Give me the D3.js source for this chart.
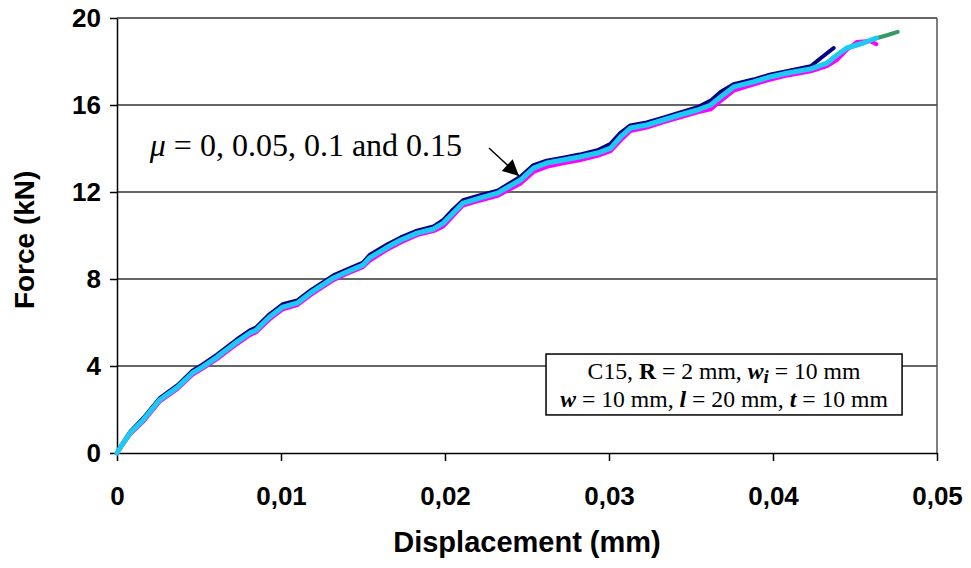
<!DOCTYPE html>
<html>
<head>
<meta charset="utf-8">
<script src="https://cdn.jsdelivr.net/npm/d3@7"></script>
<style>
	body { margin: 0; background: #fff; }
	svg { display: block; }
</style>
</head>
<body>
<div id="chart"></div>
<script>
// Axis ticks
var xTicks = [0, 0.01, 0.02, 0.03, 0.04, 0.05]
var yTicks = [0, 4, 8, 12, 16, 20]

// mu = 0 (navy)
var dispMu0 = [0, 0.0003, 0.0008, 0.0016, 0.0026, 0.0037, 0.0046, 0.0052, 0.0061, 0.0073, 0.0081, 0.0085, 0.0093, 0.0101, 0.0110, 0.0118, 0.0132, 0.0140, 0.0150, 0.0154, 0.0165, 0.0173, 0.0183, 0.0193, 0.0199, 0.0205, 0.0211, 0.0221, 0.0232, 0.0246, 0.0254, 0.0262, 0.0272, 0.0282, 0.0293, 0.0301, 0.0307, 0.0313, 0.0323, 0.0333, 0.0343, 0.0354, 0.0362, 0.0368, 0.0376, 0.0388, 0.0398, 0.0409, 0.0423, 0.0429, 0.0437]
var forceMu0 = [0, 0.40, 0.97, 1.60, 2.52, 3.12, 3.78, 4.06, 4.52, 5.22, 5.64, 5.78, 6.38, 6.84, 7.02, 7.48, 8.17, 8.43, 8.76, 9.10, 9.60, 9.91, 10.22, 10.42, 10.72, 11.20, 11.62, 11.84, 12.06, 12.70, 13.24, 13.44, 13.58, 13.72, 13.92, 14.22, 14.72, 15.06, 15.20, 15.42, 15.65, 15.90, 16.20, 16.60, 16.96, 17.17, 17.39, 17.57, 17.78, 18.15, 18.62]

// mu = 0.05 (magenta)
var dispMu005 = [0, 0.0003, 0.0008, 0.0016, 0.0026, 0.0037, 0.0046, 0.0052, 0.0061, 0.0073, 0.0081, 0.0085, 0.0093, 0.0101, 0.0110, 0.0118, 0.0132, 0.0140, 0.0150, 0.0154, 0.0165, 0.0173, 0.0183, 0.0193, 0.0199, 0.0205, 0.0211, 0.0221, 0.0232, 0.0246, 0.0254, 0.0262, 0.0272, 0.0282, 0.0293, 0.0301, 0.0307, 0.0313, 0.0323, 0.0333, 0.0343, 0.0354, 0.0362, 0.0368, 0.0376, 0.0388, 0.0398, 0.0409, 0.0423, 0.0433, 0.0439, 0.0445, 0.0451, 0.0459, 0.0463]
var forceMu005 = [0, 0.33, 0.86, 1.44, 2.36, 2.95, 3.60, 3.87, 4.32, 5.00, 5.42, 5.56, 6.14, 6.60, 6.80, 7.26, 7.95, 8.23, 8.55, 8.84, 9.36, 9.68, 10.02, 10.20, 10.42, 10.90, 11.38, 11.60, 11.82, 12.38, 12.92, 13.16, 13.32, 13.46, 13.66, 13.88, 14.36, 14.80, 14.96, 15.20, 15.42, 15.66, 15.80, 16.18, 16.66, 16.94, 17.16, 17.36, 17.55, 17.79, 18.07, 18.53, 18.90, 18.94, 18.80]

// mu = 0.1 (sky blue)
var dispMu01 = [0, 0.0003, 0.0008, 0.0016, 0.0026, 0.0037, 0.0046, 0.0052, 0.0061, 0.0073, 0.0081, 0.0085, 0.0093, 0.0101, 0.0110, 0.0118, 0.0132, 0.0140, 0.0150, 0.0154, 0.0165, 0.0173, 0.0183, 0.0193, 0.0199, 0.0205, 0.0211, 0.0221, 0.0232, 0.0246, 0.0254, 0.0262, 0.0272, 0.0282, 0.0293, 0.0301, 0.0307, 0.0313, 0.0323, 0.0333, 0.0343, 0.0354, 0.0362, 0.0368, 0.0376, 0.0388, 0.0398, 0.0409, 0.0423, 0.0433, 0.0439, 0.0445, 0.0455, 0.0463]
var forceMu01 = [0, 0.37, 0.92, 1.52, 2.44, 3.03, 3.68, 3.95, 4.41, 5.10, 5.52, 5.66, 6.25, 6.71, 6.90, 7.36, 8.05, 8.32, 8.64, 8.97, 9.47, 9.79, 10.11, 10.30, 10.57, 11.03, 11.49, 11.72, 11.95, 12.55, 13.10, 13.33, 13.47, 13.61, 13.79, 14.02, 14.53, 14.94, 15.08, 15.31, 15.54, 15.77, 16.00, 16.37, 16.83, 17.06, 17.29, 17.47, 17.66, 17.93, 18.30, 18.62, 18.85, 19.08]

// mu = 0.15 (green)
var dispMu015 = [0, 0.0003, 0.0008, 0.0016, 0.0026, 0.0037, 0.0046, 0.0052, 0.0061, 0.0073, 0.0081, 0.0085, 0.0093, 0.0101, 0.0110, 0.0118, 0.0132, 0.0140, 0.0150, 0.0154, 0.0165, 0.0173, 0.0183, 0.0193, 0.0199, 0.0205, 0.0211, 0.0221, 0.0232, 0.0246, 0.0254, 0.0262, 0.0272, 0.0282, 0.0293, 0.0301, 0.0307, 0.0313, 0.0323, 0.0333, 0.0343, 0.0354, 0.0362, 0.0368, 0.0376, 0.0388, 0.0398, 0.0409, 0.0423, 0.0433, 0.0439, 0.0445, 0.0455, 0.0463, 0.0470, 0.0476]
var forceMu015 = [0, 0.36, 0.91, 1.51, 2.43, 3.02, 3.67, 3.95, 4.40, 5.09, 5.51, 5.65, 6.24, 6.70, 6.90, 7.35, 8.04, 8.31, 8.63, 8.96, 9.46, 9.78, 10.10, 10.30, 10.56, 11.02, 11.48, 11.71, 11.94, 12.54, 13.09, 13.32, 13.46, 13.60, 13.78, 14.01, 14.52, 14.93, 15.07, 15.30, 15.53, 15.76, 15.99, 16.36, 16.82, 17.05, 17.28, 17.46, 17.65, 17.92, 18.29, 18.61, 18.84, 19.07, 19.22, 19.36]

var series = [
	{name: "mu0",   disp: dispMu0,   force: forceMu0,   color: "#000080", width: 4},
	{name: "mu005", disp: dispMu005, force: forceMu005, color: "#ff00ff", width: 4},
	{name: "mu015", disp: dispMu015, force: forceMu015, color: "#339966", width: 4},
	{name: "mu01",  disp: dispMu01,  force: forceMu01,  color: "#1ccbf4", width: 5}
]

var W = 971, H = 568
var margin = {top: 18, right: 34, bottom: 115, left: 117}
var width = W - margin.left - margin.right,
	height = H - margin.top - margin.bottom

var sans = "Arial, 'Liberation Sans', sans-serif"
var serif = "'Times New Roman', 'Liberation Serif', serif"

var svg = d3.select("#chart")
	.append("svg")
		.attr("width", W)
		.attr("height", H)
	.append("g")
		.attr("transform", "translate(" + margin.left + "," + margin.top + ")")

var xScale = d3.scaleLinear().domain([0, 0.05]).range([0, width])
var yScale = d3.scaleLinear().domain([0, 20]).range([height, 0])

// Gridlines
svg.append("g")
	.selectAll("line")
	.data(yTicks.slice(1))
	.enter().append("line")
		.attr("x1", 0)
		.attr("x2", width)
		.attr("y1", d => yScale(d))
		.attr("y2", d => yScale(d))
		.attr("stroke", "#333")
		.attr("stroke-width", 1.5)

// right border
svg.append("line")
	.attr("x1", width).attr("x2", width)
	.attr("y1", 0).attr("y2", height)
	.attr("stroke", "#555")
	.attr("stroke-width", 1.5)

// X axis
var xAxis = d3.axisBottom(xScale)
	.tickValues(xTicks)
	.tickSize(8)
	.tickSizeOuter(0)
	.tickPadding(26)
	.tickFormat(d => d === 0 ? "0" : d.toFixed(2).replace(".", ","))
var gx = svg.append("g")
	.attr("transform", "translate(0," + height + ")")
	.call(xAxis)

// Y axis
var yAxis = d3.axisLeft(yScale)
	.tickValues(yTicks)
	.tickSize(7)
	.tickSizeOuter(0)
	.tickPadding(9)
	.tickFormat(d3.format("d"))
var gy = svg.append("g").call(yAxis)

svg.selectAll(".domain, .tick line")
	.attr("stroke", "#000")
	.attr("stroke-width", 1.5)
svg.selectAll(".tick text")
	.style("font", "bold 26px " + sans)
	.attr("fill", "#000")

// Axis titles
svg.append("text")
	.attr("x", xScale(0.0250))
	.attr("y", height + 99)
	.attr("text-anchor", "middle")
	.style("font", "bold 29px " + sans)
	.text("Displacement (mm)")
svg.append("text")
	.attr("transform", "translate(" + (-83) + "," + yScale(9.8) + ") rotate(-90)")
	.attr("text-anchor", "middle")
	.style("font", "bold 28px " + sans)
	.text("Force (kN)")

// Curves
var line = d3.line()
	.x(d => xScale(d[0]))
	.y(d => yScale(d[1]))

series.forEach(s => {
	svg.append("path")
		.datum(s.disp.map((d, i) => [d, s.force[i]]))
		.attr("fill", "none")
		.attr("stroke", s.color)
		.attr("stroke-width", s.width)
		.attr("stroke-linejoin", "round")
		.attr("stroke-linecap", "round")
		.attr("d", line)
})

// Annotation
var note = svg.append("text")
	.attr("x", xScale(0.0020))
	.attr("y", yScale(13.66))
	.style("font", "32px " + serif)
note.append("tspan").style("font-style", "italic").text("μ")
note.append("tspan").text(" = 0, 0.05, 0.1 and 0.15")

// arrow
var ax0 = xScale(0.02268), ay0 = yScale(14.02),
	ax1 = xScale(0.02451), ay1 = yScale(12.74)
svg.append("line")
	.attr("x1", ax0).attr("y1", ay0)
	.attr("x2", ax1).attr("y2", ay1)
	.attr("stroke", "#000")
	.attr("stroke-width", 1.5)

svg.append("path")
	.attr("d", () => {
		var ang = Math.atan2(ay1 - ay0, ax1 - ax0)
		var L = 16, Wd = 8
		var bx = ax1 - L * Math.cos(ang), by = ay1 - L * Math.sin(ang)
		var px = -Math.sin(ang) * Wd, py = Math.cos(ang) * Wd
		return "M" + ax1 + "," + ay1 + "L" + (bx + px) + "," + (by + py) + "L" + (bx - px) + "," + (by - py) + "Z"
	})
	.attr("fill", "#000")

// Parameter box
var bx0 = xScale(0.02616), bx1 = xScale(0.04787), by0 = yScale(4.55), by1 = yScale(1.75)
svg.append("rect")
	.attr("x", bx0).attr("y", by0)
	.attr("width", bx1 - bx0).attr("height", by1 - by0)
	.attr("fill", "#fff")
	.attr("stroke", "#000")
	.attr("stroke-width", 1.5)

var cx = (bx0 + bx1) / 2
var l1 = svg.append("text")
	.attr("x", cx).attr("y", by0 + 25)
	.attr("text-anchor", "middle")
	.style("font", "23.7px " + serif)
l1.append("tspan").text("C15, ")
l1.append("tspan").style("font-weight", "bold").text("R")
l1.append("tspan").text(" = 2 mm, ")
l1.append("tspan").style("font-weight", "bold").style("font-style", "italic").text("w")
l1.append("tspan").style("font-weight", "bold").style("font-style", "italic").style("font-size", "19px").attr("dy", 4).text("i")
l1.append("tspan").attr("dy", -4).text(" = 10 mm")

var l2 = svg.append("text")
	.attr("x", cx).attr("y", by0 + 53)
	.attr("text-anchor", "middle")
	.style("font", "23.7px " + serif)
l2.append("tspan").style("font-weight", "bold").style("font-style", "italic").text("w")
l2.append("tspan").text(" = 10 mm, ")
l2.append("tspan").style("font-weight", "bold").style("font-style", "italic").text("l")
l2.append("tspan").text(" = 20 mm, ")
l2.append("tspan").style("font-weight", "bold").style("font-style", "italic").text("t")
l2.append("tspan").text(" = 10 mm")
</script>
</body>
</html>
